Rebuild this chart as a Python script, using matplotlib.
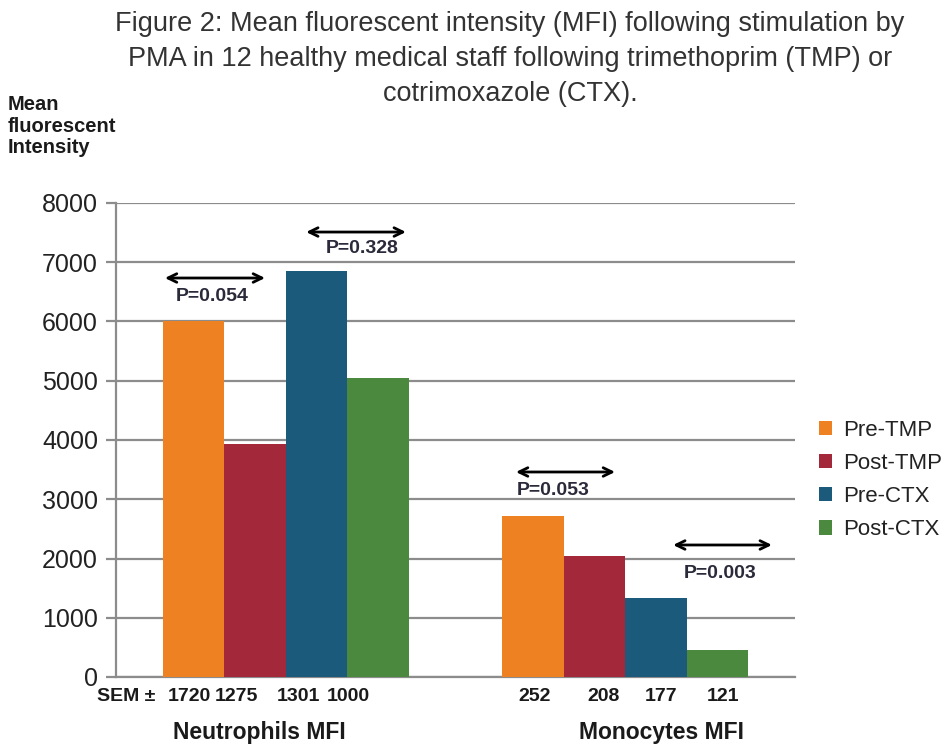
import numpy as np
import matplotlib.pyplot as plt
from matplotlib.transforms import blended_transform_factory

# data
groups = ["Neutrophils MFI", "Monocytes MFI"]
series = ["Pre-TMP", "Post-TMP", "Pre-CTX", "Post-CTX"]
pre_tmp = [6000, 2720]
post_tmp = [3930, 2045]
pre_ctx = [6850, 1335]
post_ctx = [5050, 450]
sem_neutro = ["1720", "1275", "1301", "1000"]
sem_mono = ["252", "208", "177", "121"]
p_values = ["P=0.054", "P=0.328", "P=0.053", "P=0.003"]

colors = ["#EE8222", "#A3283A", "#1C5A7C", "#4B8A3E"]
font = ["Liberation Sans", "DejaVu Sans"]
dark = "#1a1a1a"

fig = plt.figure(figsize=(9.51, 7.49), dpi=100)
ax = fig.add_axes([116 / 951, 72 / 749, 679 / 951, 474 / 749])

x = np.arange(len(groups)) + 0.5
w = 0.181
values = [pre_tmp, post_tmp, pre_ctx, post_ctx]
for i, (name, vals) in enumerate(zip(series, values)):
    ax.bar(x + (i - 1.5) * w, vals, width=w, color=colors[i],
           label=name, zorder=3)

ax.set_xlim(0, 2)
ax.set_ylim(0, 8000)
ax.set_yticks(np.arange(0, 8001, 1000))
ax.set_xticks([])
ax.grid(axis="y", color="#8c8c8c", linewidth=1.6, zorder=0)
for s in ["top", "right"]:
    ax.spines[s].set_visible(False)
for s in ["left", "bottom"]:
    ax.spines[s].set_color("#8c8c8c")
    ax.spines[s].set_linewidth(1.6)
ax.tick_params(axis="y", direction="out", length=7, width=1.6,
               color="#8c8c8c", labelsize=18, labelcolor="#222222", pad=6)
for lab in ax.get_yticklabels():
    lab.set_family(font)

# SEM row (typed as a text row under the bars) and group labels
trans = blended_transform_factory(ax.transData, ax.transAxes)
sem_x = [[0.215, 0.356, 0.536, 0.683], [1.234, 1.437, 1.605, 1.788]]
sems = [sem_neutro, sem_mono]
for g in range(len(groups)):
    for i in range(len(series)):
        ax.text(sem_x[g][i], -0.042, sems[g][i], transform=trans,
                ha="center", va="center", fontsize=14, fontweight="bold",
                family=font, color=dark)
group_x = [0.422, 1.608]
for g in range(len(groups)):
    ax.text(group_x[g], -0.118, groups[g], transform=trans, ha="center",
            va="center", fontsize=16.5, fontweight="bold", family=font,
            color=dark)
ax.text(0.031, -0.042, "SEM \u00b1", transform=trans, ha="center",
        va="center", fontsize=14, fontweight="bold", family=font, color=dark)

# p-value arrows
arrows = [(0.144, 0.439, 6734, 0.283, 6414),
          (0.560, 0.854, 7510, 0.725, 7240),
          (1.178, 1.470, 3460, 1.287, 3140),
          (1.641, 1.932, 2228, 1.779, 1755)]
for (x0, x1, ya, xt, yt), p in zip(arrows, p_values):
    ax.annotate("", xy=(x0, ya), xytext=(x1, ya),
                arrowprops=dict(arrowstyle="<->,head_length=0.45,head_width=0.22",
                                color="black", lw=2,
                                mutation_scale=14, shrinkA=0, shrinkB=0),
                zorder=5)
    ax.text(xt, yt, p, ha="center", va="center", fontsize=14,
            fontweight="bold", family=font, color="#2a2a3a", zorder=5)

# title and y label
title_lines = ["Figure 2: Mean fluorescent intensity (MFI) following stimulation by",
               "PMA in 12 healthy medical staff following trimethoprim (TMP) or",
               "cotrimoxazole (CTX)."]
for k, line in enumerate(title_lines):
    fig.text(510 / 951, 1 - (24 + 35 * k) / 749, line, ha="center",
             va="center", fontsize=19.5, family=font, color="#333333")
fig.text(8 / 951, 1 - 126 / 749, "Mean\nfluorescent\nIntensity", ha="left",
         va="center", fontsize=14.5, fontweight="bold", family=font,
         color=dark, linespacing=1.15)

# legend at the right edge
leg = ax.legend(loc="center left", bbox_to_anchor=(819 / 951, 1 - 480 / 749),
                bbox_transform=fig.transFigure, frameon=False,
                handlelength=0.6, handleheight=0.6, handletextpad=0.5,
                labelspacing=0.55, borderpad=0, borderaxespad=0,
                prop={"family": font, "size": 16})
for t in leg.get_texts():
    t.set_color("#222222")

fig.savefig("out.png", dpi=100)
